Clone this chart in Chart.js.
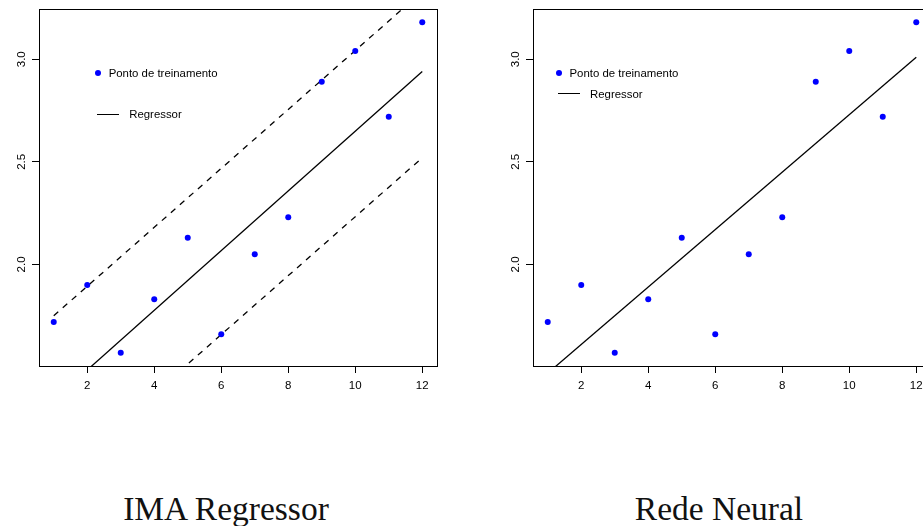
<!DOCTYPE html>
<html>
<head>
    <title>IMA Regressor x Rede Neural</title>
    <meta charset="UTF-8">
    <style>
        body { margin: 0; width: 923px; height: 526px; overflow: hidden; background: #fff; position: relative;
               font-family: "Liberation Sans", Arial, sans-serif; }
        .plot { position: absolute; top: 0; width: 460px; height: 400px; }
        .leg { position: absolute; font-size: 11.4px; line-height: 14px; color: #000; white-space: nowrap; }
        .dot { position: absolute; width: 6px; height: 6px; border-radius: 50%; background: #0000ff; }
        .seg { position: absolute; height: 0; border-top: 1.3px solid #000; }
        .titulo { position: absolute; top: 492px; width: 320px; text-align: center; white-space: nowrap;
                  font-family: "Liberation Serif", "DejaVu Serif", serif; font-size: 33.5px; line-height: 34px; color: #111; }
    </style>
</head>
<body>
    <div class="plot" style="left:0"><canvas id="imaChart" width="460" height="400"></canvas></div>
    <div class="plot" style="left:494px"><canvas id="redeChart" width="460" height="400"></canvas></div>
    <div id="legendas"></div>
    <div class="titulo" style="left:66px">IMA Regressor</div>
    <div class="titulo" style="left:559px">Rede Neural</div>

    <script src="https://cdn.jsdelivr.net/npm/chart.js"></script>
    <script>
        // pontos de treinamento
        const xTreino = [1, 2, 3, 4, 5, 6, 7, 8, 9, 10, 11, 12];
        const yTreino = [1.72, 1.90, 1.57, 1.83, 2.13, 1.66, 2.05, 2.23, 2.89, 3.04, 2.72, 3.18];

        // retas (extremos em x = 1 e x = 12)
        const xReta = [1, 12];
        const imaRegressor = [1.34, 2.94];
        const imaSuperior = [1.75, 3.33];
        const imaInferior = [0.94, 2.52];
        const redeNeural = [1.47, 3.01];

        // eixos
        const xTicks = [2, 4, 6, 8, 10, 12];
        const yTicks = [2.0, 2.5, 3.0];
        const xLim = [0.56, 12.44];
        const yLim = [1.505, 3.245];

        const pts = (xs, ys) => xs.map((x, i) => ({ x: x, y: ys[i] }));

        // moldura do grafico (box do R)
        const moldura = {
            id: 'moldura',
            afterDraw(chart) {
                const { ctx, chartArea: a } = chart;
                ctx.save();
                ctx.strokeStyle = '#000';
                ctx.lineWidth = 1;
                ctx.strokeRect(Math.round(a.left) + 0.5, Math.round(a.top) + 0.5,
                    Math.round(a.right - a.left), Math.round(a.bottom - a.top));
                ctx.restore();
            }
        };

        function pontos() {
            return {
                label: 'Ponto de treinamento',
                data: pts(xTreino, yTreino),
                showLine: false,
                pointRadius: 3,
                pointBackgroundColor: '#0000ff',
                pointBorderWidth: 0,
                order: 0
            };
        }

        function reta(label, ys, dash) {
            return {
                label: label,
                data: pts(xReta, ys),
                showLine: true,
                borderColor: '#000',
                borderWidth: 1.3,
                borderDash: dash || [],
                pointRadius: 0,
                fill: false,
                clip: 0,
                order: 1
            };
        }

        function opcoes() {
            const fonte = { family: '"Liberation Sans", Arial, sans-serif', size: 11.5 };
            return {
                responsive: false,
                animation: false,
                events: [],
                layout: { padding: { left: 0, top: 9, right: 23, bottom: 0 } },
                plugins: { legend: { display: false }, tooltip: { enabled: false } },
                scales: {
                    x: {
                        type: 'linear',
                        min: xLim[0],
                        max: xLim[1],
                        afterBuildTicks: s => { s.ticks = xTicks.map(v => ({ value: v })); },
                        afterFit: s => { s.height = 34; },
                        grid: { drawOnChartArea: false, drawTicks: true, tickLength: 7, color: '#000', lineWidth: 1 },
                        border: { display: false },
                        ticks: { color: '#000', font: fonte, padding: 6, minRotation: 0, maxRotation: 0,
                                 callback: v => String(v) }
                    },
                    y: {
                        type: 'linear',
                        min: yLim[0],
                        max: yLim[1],
                        afterBuildTicks: s => { s.ticks = yTicks.map(v => ({ value: v })); },
                        afterFit: s => { s.width = 39; },
                        grid: { drawOnChartArea: false, drawTicks: true, tickLength: 7, color: '#000', lineWidth: 1 },
                        border: { display: false },
                        ticks: { color: '#000', font: fonte, padding: 2, minRotation: 90, maxRotation: 90,
                                 crossAlign: 'center', callback: v => v.toFixed(1) }
                    }
                }
            };
        }

        const imaChart = new Chart(document.getElementById('imaChart'), {
            type: 'scatter',
            data: {
                datasets: [
                    pontos(),
                    reta('Regressor', imaRegressor),
                    reta('Limite superior', imaSuperior, [6, 6]),
                    reta('Limite inferior', imaInferior, [6, 6])
                ]
            },
            options: opcoes(),
            plugins: [moldura]
        });

        const redeChart = new Chart(document.getElementById('redeChart'), {
            type: 'scatter',
            data: {
                datasets: [
                    pontos(),
                    reta('Regressor', redeNeural)
                ]
            },
            options: opcoes(),
            plugins: [moldura]
        });

        // legendas no estilo do R, montadas a partir dos rotulos dos datasets
        function legenda(chart, dx, yPonto, yReta) {
            const box = document.getElementById('legendas');
            const ds = chart.data.datasets;
            box.insertAdjacentHTML('beforeend',
                '<div class="dot" style="left:' + (dx - 3) + 'px;top:' + (yPonto - 3) + 'px"></div>' +
                '<div class="leg" style="left:' + (dx + 11) + 'px;top:' + (yPonto - 7) + 'px">' + ds[0].label + '</div>' +
                '<div class="seg" style="left:' + (dx - 0.5) + 'px;width:21.5px;top:' + (yReta - 0.6) + 'px"></div>' +
                '<div class="leg" style="left:' + (dx + 31.5) + 'px;top:' + (yReta - 7) + 'px">' + ds[1].label + '</div>');
        }
        legenda(imaChart, 97.7, 73, 114.3);
        legenda(redeChart, 558.5, 73, 94);
    </script>
</body>
</html>
